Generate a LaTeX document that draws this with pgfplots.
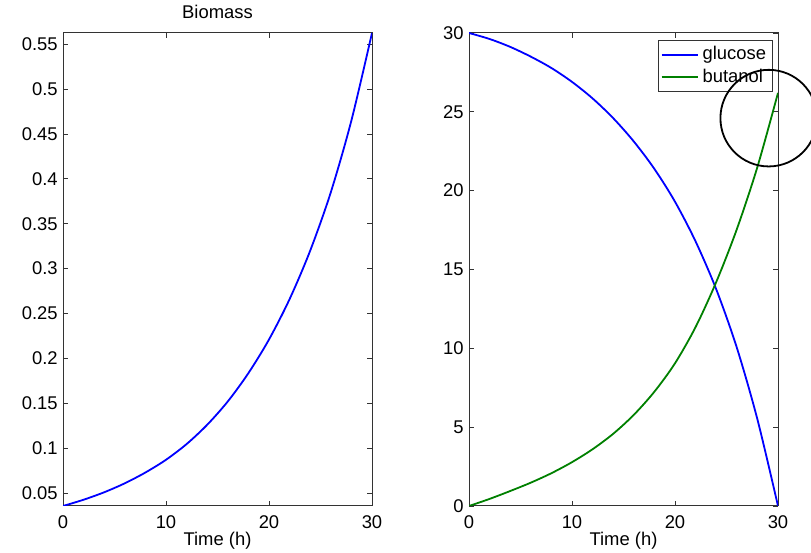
\documentclass[border=0pt]{standalone}
\usepackage{fontspec}
\setmainfont{Liberation Sans}
\usepackage{pgfplots}
\usepackage{pgfplotstable}
\pgfplotsset{compat=1.18}

% Biomass concentration over time
\pgfplotstableread{
t X
0  0.0355
2  0.0425
4  0.0508
6  0.0608
8  0.0728
10 0.0870
12 0.1045
14 0.1260
16 0.1520
18 0.1835
20 0.2210
22 0.2660
24 0.3200
26 0.3850
28 0.4650
30 0.5625
}\biomass

% Substrate and product concentrations over time
\pgfplotstableread{
t  glucose butanol
0  30.00  0.00
2  29.62  0.45
4  29.12  0.95
6  28.50  1.48
8  27.78  2.08
10 26.90  2.78
12 25.85  3.60
14 24.60  4.58
16 23.12  5.78
18 21.38  7.25
20 19.30  9.05
22 16.78 11.35
24 13.75 14.20
26 10.05 17.55
28  5.50 21.50
30  0.00 26.20
}\substrate

\definecolor{mblue}{rgb}{0,0,1}
\definecolor{mgreen}{rgb}{0,0.5,0}

\pgfplotsset{
  panel/.style={
    scale only axis, width=154.5pt, height=236.5pt, anchor=south west,
    xmin=0, xmax=30, xtick={0,10,20,30},
    tick align=inside, major tick length=2.5pt,
    axis line style={black!80, line width=0.5pt},
    every tick/.style={black!80, line width=0.4pt},
    /pgf/number format/assume math mode=true,
    xticklabel style={anchor=north, inner sep=0pt, yshift=-4.5pt},
    yticklabel style={anchor=east, inner sep=0pt, xshift=-2.5pt},
    xlabel={Time (h)},
    xlabel style={at={(axis description cs:0.5,0)}, anchor=center, yshift=-17.5pt},
    title style={at={(axis description cs:0.5,1)}, anchor=center, yshift=4.5pt},
    every axis plot/.append style={line width=0.9pt, smooth},
    legend image code/.code={\draw[##1] (0pt,0pt) -- (18pt,0pt);},
  }
}

\begin{document}
\begin{tikzpicture}[font=\fontsize{9.2}{11}\selectfont]

\begin{axis}[panel, at={(31.5pt,23.5pt)},
  title={Biomass},
  ymin=0.0355, ymax=0.5625,
  ytick={0.05,0.1,0.15,0.2,0.25,0.3,0.35,0.4,0.45,0.5,0.55},
  scaled y ticks=false,
  yticklabel style={/pgf/number format/fixed, /pgf/number format/precision=2},
]
\addplot[mblue] table[x=t, y=X] {\biomass};
\end{axis}

\begin{axis}[panel, at={(234.5pt,23.5pt)},
  ymin=0, ymax=30, ytick={0,5,10,15,20,25,30},
  legend style={at={(rel axis cs:0.982,0.985)}, anchor=north east,
    draw=black!80, fill=white, inner xsep=1pt, inner ysep=1pt,
    row sep=-1pt, font=\fontsize{9.2}{11}\selectfont},
  legend cell align=left,
]
\addplot[mblue] table[x=t, y=glucose] {\substrate};
\addlegendentry{glucose}
\addplot[mgreen] table[x=t, y=butanol] {\substrate};
\addlegendentry{butanol}
\coordinate (ring) at (axis cs:29.1,24.6);
\end{axis}

\draw[overlay, black, line width=0.9pt] (ring) circle[radius=24.15pt];

% fix the page to the full figure area
\pgfresetboundingbox
\path[use as bounding box] (0,0) rectangle (405.5pt,276.5pt);
\end{tikzpicture}
\end{document}
